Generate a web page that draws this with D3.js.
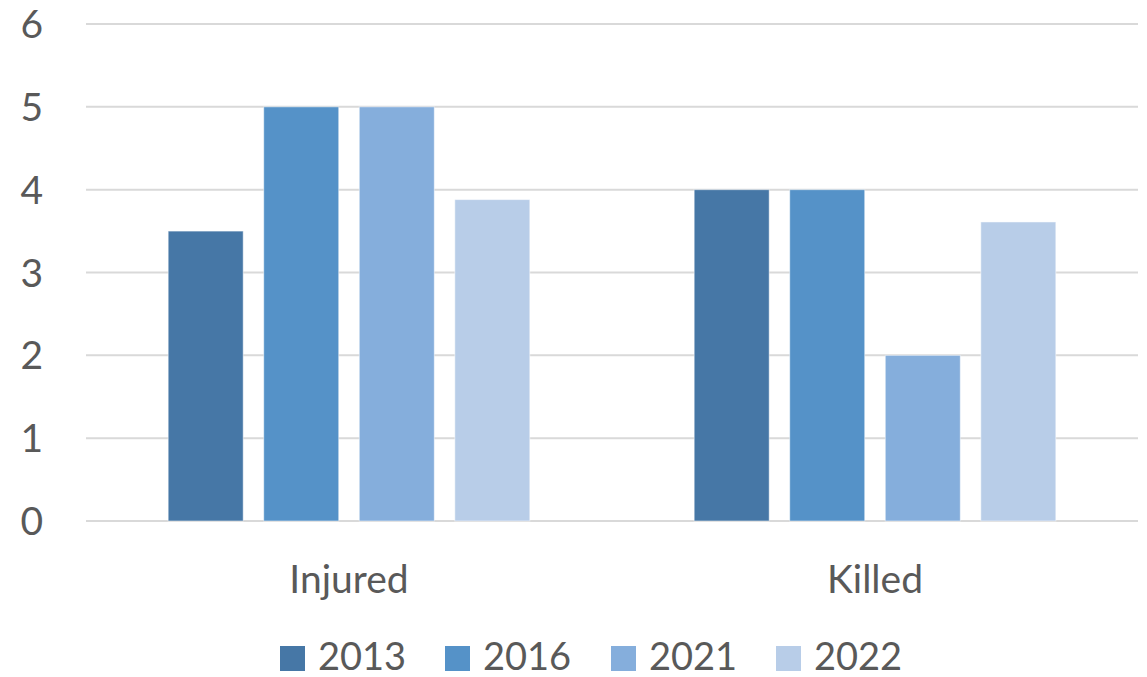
<!DOCTYPE html>
<html><head><meta charset="utf-8">
<script src="https://cdn.jsdelivr.net/npm/d3@7"></script>
<style>body{margin:0;background:#fff}svg{display:block}text{font-family:Lato,"Open Sans",sans-serif;fill:#595959}</style>
</head><body>
<svg id="c" width="1147" height="677"></svg>
<script>
const categories = ["Injured", "Killed"];
const years = ["2013", "2016", "2021", "2022"];
const values2013 = [3.5, 4];
const values2016 = [5, 4];
const values2021 = [5, 2];
const values2022 = [3.88, 3.61];
const yTicks = [0, 1, 2, 3, 4, 5, 6];
const colors = ["#4677A6", "#5592C8", "#85AEDC", "#B8CDE8"];

const series = [values2013, values2016, values2021, values2022];
const svg = d3.select("#c");
const plotL = 86, plotR = 1138, plotT = 24, plotB = 521;
const x0 = d3.scaleBand().domain(categories).range([plotL, plotR]);
const y = d3.scaleLinear().domain([0, 6]).range([plotB, plotT]);
const x1 = d3.scaleBand().domain(years).range([0, x0.bandwidth()]).paddingInner(0.215).paddingOuter(0.86);

// gridlines
svg.append("g").selectAll("line").data(yTicks).join("line")
  .attr("x1", plotL).attr("x2", plotR)
  .attr("y1", d => y(d)).attr("y2", d => y(d))
  .attr("stroke", "#d9d9d9").attr("stroke-width", 2);

// y labels
svg.append("g").selectAll("text").data(yTicks).join("text")
  .attr("x", 43).attr("y", d => y(d) + 14)
  .attr("text-anchor", "end").attr("font-size", 39).text(d => d);

// bars
categories.forEach((c, ci) => {
  svg.append("g").selectAll("rect").data(years).join("rect")
    .attr("x", d => x0(c) + x1(d))
    .attr("width", x1.bandwidth())
    .attr("y", (d, i) => y(series[i][ci]))
    .attr("height", (d, i) => y(0) - y(series[i][ci]))
    .attr("fill", (d, i) => colors[i])
    .attr("stroke", "rgba(255,255,255,0.5)").attr("stroke-width", 1);
});

// category labels
svg.append("g").selectAll("text").data(categories).join("text")
  .attr("x", d => x0(d) + x0.bandwidth() / 2).attr("y", 593)
  .attr("text-anchor", "middle").attr("font-size", 39).text(d => d);

// legend
const legX = [280, 445, 611, 776];
const lg = svg.append("g").selectAll("g").data(years).join("g")
  .attr("transform", (d, i) => `translate(${legX[i]},646)`);
lg.append("rect").attr("width", 25).attr("height", 25).attr("fill", (d, i) => colors[i]);
lg.append("text").attr("x", 38).attr("y", 24).attr("font-size", 38).text(d => d);
</script>
</body></html>
